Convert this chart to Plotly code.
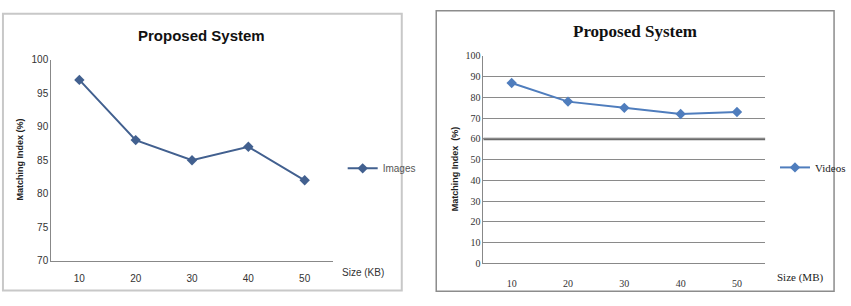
import plotly.graph_objects as go

categories = ["10", "20", "30", "40", "50"]
images_values = [97, 88, 85, 87, 82]
videos_values = [87, 78, 75, 72, 73]
left_ticks = [70, 75, 80, 85, 90, 95, 100]
left_grid = [80, 85, 90, 95]
right_ticks = [0, 10, 20, 30, 40, 50, 60, 70, 80, 90, 100]
right_strong_grid = [60]

W, H = 851, 306
def px(x): return x / W
def py(y): return 1 - y / H

fig = go.Figure()

fig.add_trace(go.Scatter(
    x=categories, y=images_values, name="Images", mode="lines+markers",
    line=dict(color="#42608f", width=2),
    marker=dict(symbol="diamond", size=8, color="#42608f"),
    xaxis="x", yaxis="y", legend="legend"))

fig.add_trace(go.Scatter(
    x=categories, y=videos_values, name="Videos", mode="lines+markers",
    line=dict(color="#4f7dbd", width=2),
    marker=dict(symbol="diamond", size=8, color="#4f7dbd"),
    xaxis="x2", yaxis="y2", legend="legend2"))

sans = "Liberation Sans"
serif = "Liberation Serif"

shapes = [
    dict(type="rect", xref="paper", yref="paper", x0=px(3), x1=px(408),
         y0=py(296), y1=py(8), line=dict(color="#c8c8c8", width=2)),
    dict(type="rect", xref="paper", yref="paper", x0=px(443), x1=px(847),
         y0=py(297), y1=py(5), line=dict(color="#8c8c8c", width=1.5)),
]
for g in right_strong_grid:
    shapes.append(dict(type="line", xref="x2 domain", yref="y2", x0=0, x1=1, y0=g, y1=g,
                       line=dict(color="#6a6a6a", width=2.5), layer="below"))

fig.update_layout(
    width=W, height=H,
    margin=dict(l=0, r=0, t=0, b=0),
    paper_bgcolor="white", plot_bgcolor="white",
    xaxis=dict(domain=[px(52), px(338)], type="category", anchor="y", range=[-0.5, 4.5],
               showgrid=False, showline=True, linecolor="#888888", linewidth=1,
               ticks="", tickfont=dict(family=sans, size=10, color="#333333"),
               ticklabelstandoff=8),
    yaxis=dict(domain=[py(265), py(56)], range=[70, 100], anchor="x",
               tickvals=left_ticks, showgrid=False, showline=True,
               linecolor="#888888", linewidth=1, ticks="",
               tickfont=dict(family=sans, size=10, color="#333333"), zeroline=False),
    yaxis3=dict(domain=[py(265), py(56)], range=[70, 100], overlaying="y",
                anchor="x", tickvals=left_grid, showticklabels=False,
                showgrid=True, gridcolor="#8a8a8a", gridwidth=1, zeroline=False),
    xaxis2=dict(domain=[px(491), px(777)], type="category", anchor="y2", range=[-0.5, 4.5],
                showgrid=False, showline=True, linecolor="#888888", linewidth=1,
                ticks="", tickfont=dict(family=serif, size=10, color="#333333"),
                ticklabelstandoff=11),
    yaxis2=dict(domain=[py(268), py(52)], range=[0, 100], anchor="x2",
                tickvals=right_ticks, showgrid=True, gridcolor="#8a8a8a", gridwidth=1,
                showline=True, linecolor="#888888", linewidth=1, ticks="",
                tickfont=dict(family=serif, size=10, color="#333333"), zeroline=False),
    legend=dict(x=px(348), y=py(169), xanchor="left", yanchor="middle",
                bgcolor="rgba(0,0,0,0)", font=dict(family=sans, size=10, color="#555555"),
                itemwidth=30, tracegroupgap=0),
    legend2=dict(x=px(787), y=py(168), xanchor="left", yanchor="middle",
                 bgcolor="rgba(0,0,0,0)", font=dict(family=serif, size=11, color="#222222"),
                 itemwidth=30, tracegroupgap=0),
    showlegend=True,
    shapes=shapes,
    annotations=[
        dict(text="<b>Proposed System</b>", x=px(205), y=py(31), xref="paper", yref="paper",
             xanchor="center", yanchor="middle",
             showarrow=False, font=dict(family=sans, size=15, color="#111111")),
        dict(text="<b>Proposed System</b>", x=px(645), y=py(27), xref="paper", yref="paper",
             xanchor="center", yanchor="middle",
             showarrow=False, font=dict(family=serif, size=17, color="#111111")),
        dict(text="<b>Matching Index (%)</b>", x=px(20), y=py(160), xref="paper", yref="paper",
             xanchor="center", yanchor="middle",
             textangle=-90, showarrow=False, font=dict(family=sans, size=9, color="#222222")),
        dict(text="<b>Matching Index  (%)</b>", x=px(462), y=py(169), xref="paper", yref="paper",
             xanchor="center", yanchor="middle",
             textangle=-90, showarrow=False, font=dict(family=sans, size=9, color="#222222")),
        dict(text="Size (KB)", x=px(345), y=py(277), xref="paper", yref="paper",
             xanchor="left", yanchor="middle", showarrow=False,
             font=dict(family=sans, size=10, color="#333333")),
        dict(text="Size (MB)", x=px(787), y=py(283), xref="paper", yref="paper",
             xanchor="left", yanchor="middle", showarrow=False,
             font=dict(family=serif, size=11, color="#222222")),
    ],
)

fig.write_html("out.html")
